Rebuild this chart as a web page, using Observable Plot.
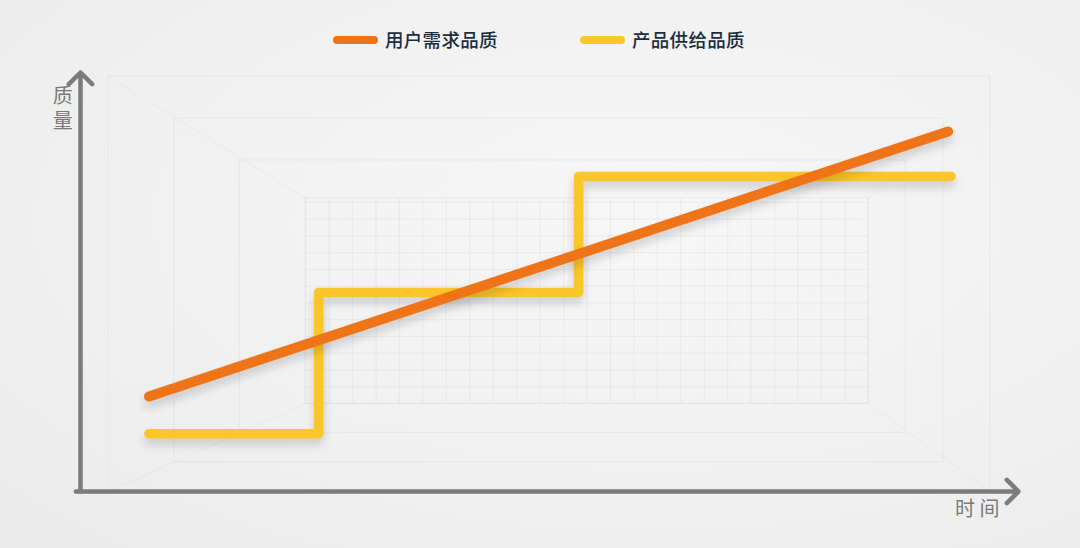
<!DOCTYPE html>
<html>
<head>
<meta charset="utf-8">
<script src="https://cdn.jsdelivr.net/npm/d3@7"></script>
<script src="https://cdn.jsdelivr.net/npm/@observablehq/plot@0.6"></script>
<style>
  html, body { margin: 0; padding: 0; width: 1080px; height: 548px; overflow: hidden;
    background: radial-gradient(ellipse at 60% 40%, #f7f7f7 0%, #f0f0f0 60%, #eaeaea 100%);
    font-family: "Noto Sans CJK SC", "Noto Sans", sans-serif; }
  #legend { position: relative; height: 62px; }
  .sw { position: absolute; top: 36px; width: 45px; height: 8px; border-radius: 4px; }
  .lt { position: absolute; top: 26px; font-size: 18.5px; font-weight: 500; color: #1c2d40; letter-spacing: 0.3px; }
  #chart svg { display: block; }
  g.ylabel text { writing-mode: vertical-rl; letter-spacing: 5px; }
</style>
</head>
<body>
<div id="legend"></div>
<div id="chart"></div>
<script>
// ---- data ----
const seriesNames = ["用户需求品质", "产品供给品质"];
const seriesColors = ["#ef7418", "#fbc62a"];
const demandTime = [7.3, 92.5];
const demandQuality = [22.7, 85.9];
const supplyTime = [7.3, 25.4, 25.4, 53.1, 53.1, 92.8];
const supplyQuality = [13.8, 13.8, 47.5, 47.5, 75.2, 75.2];
const yAxisLabel = "质量";
const xAxisLabel = "时 间";

// decorative perspective room (data units)
const roomRects = [[3, 97, 0, 99], [10, 92, 7, 89], [17, 88, 14, 79], [24, 84, 21, 70]];
const wallVerticals = d3.range(24, 84.01, 2.5);
const wallHorizontals = d3.range(21, 70.01, 4);

// ---- legend ----
const legend = document.getElementById("legend");
const legendX = [333, 580];
seriesNames.forEach((n, i) => {
  const sw = document.createElement("div");
  sw.className = "sw"; sw.style.left = legendX[i] + "px"; sw.style.background = seriesColors[i];
  legend.appendChild(sw);
  const t = document.createElement("div");
  t.className = "lt"; t.style.left = (legendX[i] + 52) + "px"; t.textContent = n;
  legend.appendChild(t);
});

const demand = demandTime.map((t, i) => ({t, q: demandQuality[i]}));
const supply = supplyTime.map((t, i) => ({t, q: supplyQuality[i]}));
const rectData = roomRects.map(([x1, x2, y1, y2]) => ({x1, x2, y1, y2}));
const outer = roomRects[0], inner = roomRects[roomRects.length - 1];
const diagonals = [
  {x1: outer[0], y1: outer[2], x2: inner[0], y2: inner[2]},
  {x1: outer[1], y1: outer[2], x2: inner[1], y2: inner[2]},
  {x1: outer[0], y1: outer[3], x2: inner[0], y2: inner[3]},
  {x1: outer[1], y1: outer[3], x2: inner[1], y2: inner[3]}
];
const axes = [
  {x1: 0, y1: 0, x2: 0, y2: 100},
  {x1: -0.5, y1: 0, x2: 100, y2: 0}
];

const svg = Plot.plot({
  width: 1080,
  height: 486,
  marginLeft: 80,
  marginRight: 62,
  marginTop: 10,
  marginBottom: 57,
  x: {domain: [0, 100], axis: null},
  y: {domain: [0, 100], axis: null},
  style: {background: "transparent", overflow: "visible"},
  marks: [
    Plot.rect(rectData, {x1: "x1", x2: "x2", y1: "y1", y2: "y2", fill: "none", stroke: "#d2d2d2", strokeWidth: 1, strokeOpacity: 0.3}),
    Plot.link(diagonals, {x1: "x1", y1: "y1", x2: "x2", y2: "y2", stroke: "#d2d2d2", strokeWidth: 1, strokeOpacity: 0.25}),
    Plot.ruleX(wallVerticals, {x: d => d, y1: inner[2], y2: inner[3], stroke: "#d0d0d0", strokeWidth: 0.8, strokeOpacity: 0.35}),
    Plot.ruleY(wallHorizontals, {y: d => d, x1: inner[0], x2: inner[1], stroke: "#d0d0d0", strokeWidth: 0.8, strokeOpacity: 0.35}),
    Plot.arrow(axes, {x1: "x1", y1: "y1", x2: "x2", y2: "y2", stroke: "#7b7b7b", strokeWidth: 4.5, headLength: 5.5, headAngle: 90}),
    Plot.text([yAxisLabel], {x: -1.9, y: 92.5, text: d => d, fontSize: 20, fill: "#7a7a7a", className: "ylabel"}),
    Plot.text([xAxisLabel], {x: 95.6, y: -4.2, text: d => d, fontSize: 20, fill: "#7a7a7a"}),
    Plot.line(supply, {x: "t", y: "q", stroke: seriesColors[1], strokeWidth: 9.5, strokeLinecap: "round", strokeLinejoin: "round"}),
    Plot.line(demand, {x: "t", y: "q", stroke: seriesColors[0], strokeWidth: 10, strokeLinecap: "round"})
  ]
});
d3.select(svg).selectAll('g[aria-label="line"]').style("filter", "drop-shadow(0px 6px 5px rgba(0,0,0,0.16))");
d3.select(svg).selectAll('g[aria-label="text"]').style("font-family", '"Noto Sans CJK SC", sans-serif');
d3.select(svg).selectAll('g.ylabel text').attr("dy", null).attr("writing-mode", "vertical-rl");
document.getElementById("chart").appendChild(svg);
</script>
</body>
</html>
